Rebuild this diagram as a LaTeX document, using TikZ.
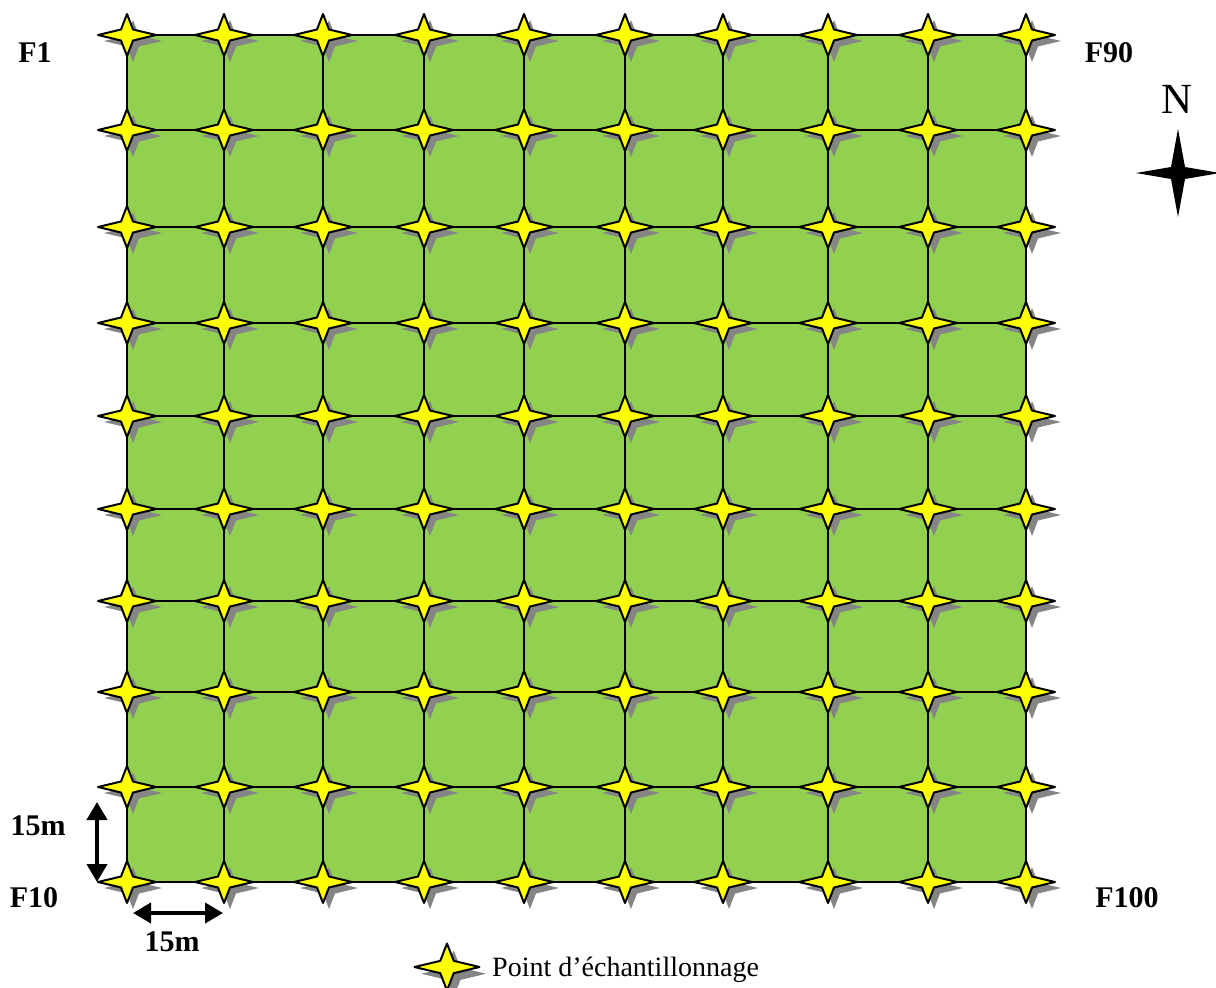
\documentclass[tikz,border=0pt]{standalone}
\usepackage{fontspec}
\setmainfont{Liberation Serif}
\usetikzlibrary{arrows.meta}
\definecolor{cellgreen}{HTML}{92D050}
\definecolor{staryellow}{HTML}{FFFF00}
\definecolor{shadowgray}{HTML}{858585}
\def\sparkpath{(29,0) -- (6,5.5) -- (0,21) -- (-6,5.5) -- (-29,0) -- (-6,-5.5) -- (0,-21) -- (6,-5.5) -- cycle}
\begin{document}
\begin{tikzpicture}[x=1pt,y=-1pt,
  gridline/.style={line width=2pt,black},
  lab/.style={font=\fontsize{30}{36}\selectfont\bfseries,inner sep=0pt},
  legendtext/.style={font=\fontsize{28}{34}\selectfont,inner sep=0pt},
  northtext/.style={font=\fontsize{43}{50}\selectfont,inner sep=0pt},
  dimarrow/.style={line width=4pt,{Triangle[width=20pt,length=18pt]}-{Triangle[width=20pt,length=18pt]}},
  pics/spark/.style={code={
    \fill[shadowgray,shift={(6,6)}] \sparkpath;
    \draw[fill=staryellow,line width=2pt,line join=round] \sparkpath;
  }},
  pics/compass/.style={code={
    \fill[black] (42,0) -- (7,6) -- (0,44) -- (-7,6) -- (-42,0) -- (-7,-6) -- (0,-44) -- (7,-6) -- cycle;
  }}
]
\useasboundingbox (0,0) rectangle (1216,988);
\def\xs{127,224,323,424,524,625,723,828,928,1026}
\def\ys{35,130,227,323,416,509,601,692,787,882}
\fill[cellgreen] (127,35) rectangle (1026,882);
\foreach \x in \xs {\draw[gridline] (\x,35) -- (\x,882);}
\foreach \y in \ys {\draw[gridline] (127,\y) -- (1026,\y);}
\foreach \x in \xs {\foreach \y in \ys {\pic at (\x,\y) {spark};}}
% corner labels
\node[lab,anchor=base] (f1) at (35,62) {F1};
\node[lab,anchor=base] (f90) at (1109,62) {F90};
\node[lab,anchor=base] (f10) at (34,907) {F10};
\node[lab,anchor=base] (f100) at (1127,907) {F100};
% north
\node[northtext,anchor=base] (north) at (1177,113) {N};
\pic at (1178,173) {compass};
% dimensions
\coordinate (vtop) at (97,802);
\coordinate (vbot) at (97,882);
\draw[dimarrow] (vtop) -- (vbot);
\coordinate (hleft) at (133,913);
\coordinate (hright) at (223,913);
\draw[dimarrow] (hleft) -- (hright);
\node[lab,anchor=base] (dimv) at (38,835) {15m};
\node[lab,anchor=base] (dimh) at (172,951) {15m};
% legend
\pic[scale=1.12] at (447,967) {spark};
\node[legendtext,anchor=base west] (legend) at (492,976) {Point d’échantillonnage};
\end{tikzpicture}
\end{document}
